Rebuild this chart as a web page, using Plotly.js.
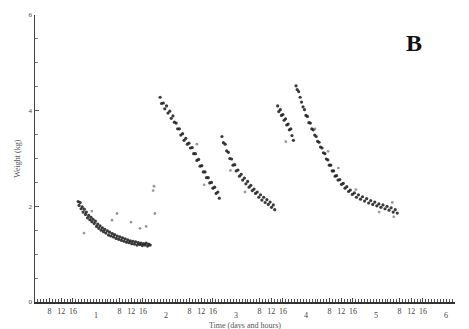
<!DOCTYPE html>
<html>
<head>
<meta charset="utf-8">
<script src="https://cdn.plot.ly/plotly-3.0.1.min.js"></script>
<style>html,body{margin:0;padding:0;background:#fff;}#chart{width:469px;height:329px;}</style>
</head>
<body>
<div id="chart"></div>
<script>
// Elapsed hours since start of recording (start = 03:00, day 0)
const START_CLOCK = 3;
const hourLabels = [8, 12, 16];
const dayLabels = ['1', '2', '3', '4', '5', '6'];
const yLabels = [0, 2, 4, 6];

// Bout 1
const seg1X = [14.8,15.1,15.5,15.8,16.2,16.5,16.9,17.3,17.6,18.0,18.4,18.8,19.2,19.5,19.9,20.3,20.7,21.1,21.5,21.9,22.3,22.7,23.1,23.5,23.9,24.3,24.8,25.2,25.6,26.0,26.5,26.9,27.3,27.8,28.2,28.7,29.1,29.6,30.0,30.5,30.9,31.4,31.8,32.3,32.7,33.2,33.6,34.1,34.5,35.0,35.4,35.9,36.3,36.8,37.2,37.7,38.1,38.6,39.0,39.5];
const seg1Y = [2.10,2.02,2.08,1.95,1.99,1.88,1.94,1.83,1.88,1.76,1.81,1.72,1.77,1.68,1.73,1.64,1.69,1.58,1.63,1.54,1.59,1.50,1.55,1.47,1.52,1.44,1.49,1.40,1.46,1.38,1.43,1.36,1.41,1.33,1.38,1.31,1.36,1.29,1.34,1.27,1.32,1.25,1.30,1.24,1.28,1.22,1.27,1.21,1.26,1.19,1.24,1.20,1.23,1.18,1.22,1.19,1.23,1.17,1.21,1.19];
// Bout 2
const seg2X = [42.9,43.4,44.0,44.5,45.1,45.6,46.2,46.7,47.3,47.8,48.4,48.9,49.5,50.0,50.6,51.1,51.7,52.2,52.8,53.3,53.9,54.4,55.0,55.5,56.1,56.6,57.2,57.7,58.3,58.8,59.4,59.9,60.5,61.0,61.6,62.1,62.7,63.2];
const seg2Y = [4.28,4.15,4.16,4.04,4.10,3.95,3.99,3.84,3.89,3.76,3.74,3.62,3.62,3.49,3.52,3.38,3.42,3.30,3.32,3.22,3.23,3.10,3.10,2.96,2.98,2.84,2.85,2.72,2.72,2.60,2.60,2.49,2.50,2.38,2.40,2.27,2.30,2.17];
// Bout 3
const seg3X = [64.1,64.6,65.2,65.7,66.3,66.8,67.4,67.9,68.5,69.0,69.6,70.1,70.7,71.2,71.8,72.3,72.9,73.4,74.0,74.5,75.1,75.6,76.2,76.7,77.3,77.8,78.4,78.9,79.5,80.0,80.6,81.1,81.7,82.2];
const seg3Y = [3.46,3.33,3.30,3.16,3.13,3.00,2.99,2.86,2.87,2.74,2.76,2.63,2.67,2.55,2.59,2.47,2.52,2.40,2.44,2.33,2.36,2.27,2.30,2.19,2.24,2.13,2.19,2.08,2.14,2.04,2.09,1.98,2.03,1.93];
// Bout 4a
const seg4aX = [83.2,83.6,84.1,84.5,85.0,85.4,85.9,86.3,86.8,87.2,87.7,88.1,88.6];
const seg4aY = [4.10,3.98,4.02,3.90,3.92,3.80,3.83,3.70,3.72,3.60,3.62,3.48,3.38];
// Bout 4b
const seg4bX = [89.5,89.9,90.4,90.9,91.4,91.9,92.4,92.9,93.4,93.9,94.4,94.9,95.4,95.9,96.4,96.9,97.4,97.9,98.4,98.9,99.4,99.9,100.4,100.9,101.4,101.9,102.4,102.9,103.4,103.9,104.5,105.1,105.7,106.3,106.9,107.5,108.1,108.8,109.5,110.2,110.9,111.6,112.3,113.0,113.7,114.4,115.1,115.8,116.5,117.2,117.9,118.6,119.3,120.0,120.7,121.4,122.1,122.8,123.5,124.2];
const seg4bY = [4.52,4.44,4.40,4.28,4.18,4.08,4.02,3.90,3.88,3.75,3.74,3.62,3.60,3.49,3.46,3.36,3.34,3.24,3.22,3.12,3.10,2.99,2.97,2.86,2.86,2.74,2.74,2.63,2.64,2.55,2.56,2.46,2.48,2.38,2.41,2.31,2.34,2.25,2.28,2.19,2.24,2.15,2.20,2.11,2.16,2.07,2.12,2.04,2.09,2.01,2.05,1.98,2.03,1.95,2.00,1.92,1.97,1.88,1.93,1.86];
// Scattered readings
const strayX = [16.8,19.5,26.4,28.1,32.9,36.0,38.1,40.5,41.1,40.8,55.5,58.0,67.0,72.0,86.0,96.0,100.5,104.0,110.0,118.0,123.0,122.5];
const strayY = [1.44,1.90,1.71,1.85,1.67,1.54,1.58,2.33,1.85,2.42,3.30,2.45,2.75,2.30,3.35,3.62,3.15,2.80,2.35,1.88,1.78,2.08];

const segments = [[seg1X, seg1Y], [seg2X, seg2Y], [seg3X, seg3Y], [seg4aX, seg4aY], [seg4bX, seg4bY]];
const traces = segments.map(([x, y]) => ({
  x: x, y: y, type: 'scatter', mode: 'markers',
  marker: {size: 3.2, color: '#1a1a1a', opacity: 0.85},
  hoverinfo: 'skip', showlegend: false
}));
traces.push({
  x: strayX, y: strayY, type: 'scatter', mode: 'markers',
  marker: {size: 2.8, color: '#555', opacity: 0.6},
  hoverinfo: 'skip', showlegend: false
});

const tickvals = [], ticktext = [];
for (let d = 0; d < dayLabels.length; d++) {
  for (const h of hourLabels) {
    tickvals.push(d * 24 + h - START_CLOCK);
    ticktext.push(String(h));
  }
}
const dayAnnotations = dayLabels.map((lab, d) => ({
  text: lab, xref: 'x', yref: 'paper', x: (d + 1) * 24 - START_CLOCK, y: -0.047,
  xanchor: 'center', yanchor: 'middle', showarrow: false,
  font: {family: 'Liberation Serif', size: 8, color: '#444'}
}));

const layout = {
  width: 469, height: 329,
  margin: {l: 35, r: 14, t: 15, b: 27},
  paper_bgcolor: '#fff', plot_bgcolor: '#fff',
  showlegend: false,
  xaxis: {
    range: [0, 144], showgrid: false, zeroline: false,
    showline: true, linecolor: '#333', linewidth: 2,
    tickmode: 'array', tickvals: tickvals, ticktext: ticktext,
    ticks: 'inside', ticklen: 4, tickcolor: '#444', tickwidth: 1,
    minor: {dtick: 1, ticks: 'inside', ticklen: 3, tickcolor: '#555', tickwidth: 1},
    tickfont: {family: 'Liberation Serif', size: 8, color: '#444'},
    tickangle: 0
  },
  yaxis: {
    range: [0, 6], showgrid: false, zeroline: false,
    showline: true, linecolor: '#444', linewidth: 1.5,
    tickmode: 'array', tickvals: yLabels, ticktext: yLabels.map(String),
    ticks: 'inside', ticklen: 4, tickcolor: '#555', tickwidth: 1,
    minor: {dtick: 0.5, ticks: 'inside', ticklen: 3, tickcolor: '#777', tickwidth: 1},
    tickfont: {family: 'Liberation Serif', size: 7, color: '#444'}
  },
  annotations: [
    {text: 'B', xref: 'paper', yref: 'paper', x: 0.903, y: 0.902, xanchor: 'center', yanchor: 'middle',
     showarrow: false, font: {family: 'Liberation Serif', size: 24, color: '#111', weight: 'bold'}},
    {text: 'Weight (kg)', xref: 'paper', yref: 'paper', x: -0.042, y: 0.5, xanchor: 'center', yanchor: 'middle',
     textangle: -90, showarrow: false, font: {family: 'Liberation Serif', size: 8, color: '#555'}},
    {text: 'Time (days and hours)', xref: 'paper', yref: 'paper', x: 0.5, y: -0.081, xanchor: 'center', yanchor: 'middle',
     showarrow: false, font: {family: 'Liberation Serif', size: 8, color: '#555'}}
  ].concat(dayAnnotations)
};

Plotly.newPlot('chart', traces, layout, {displayModeBar: false, staticPlot: true});
</script>
</body>
</html>
